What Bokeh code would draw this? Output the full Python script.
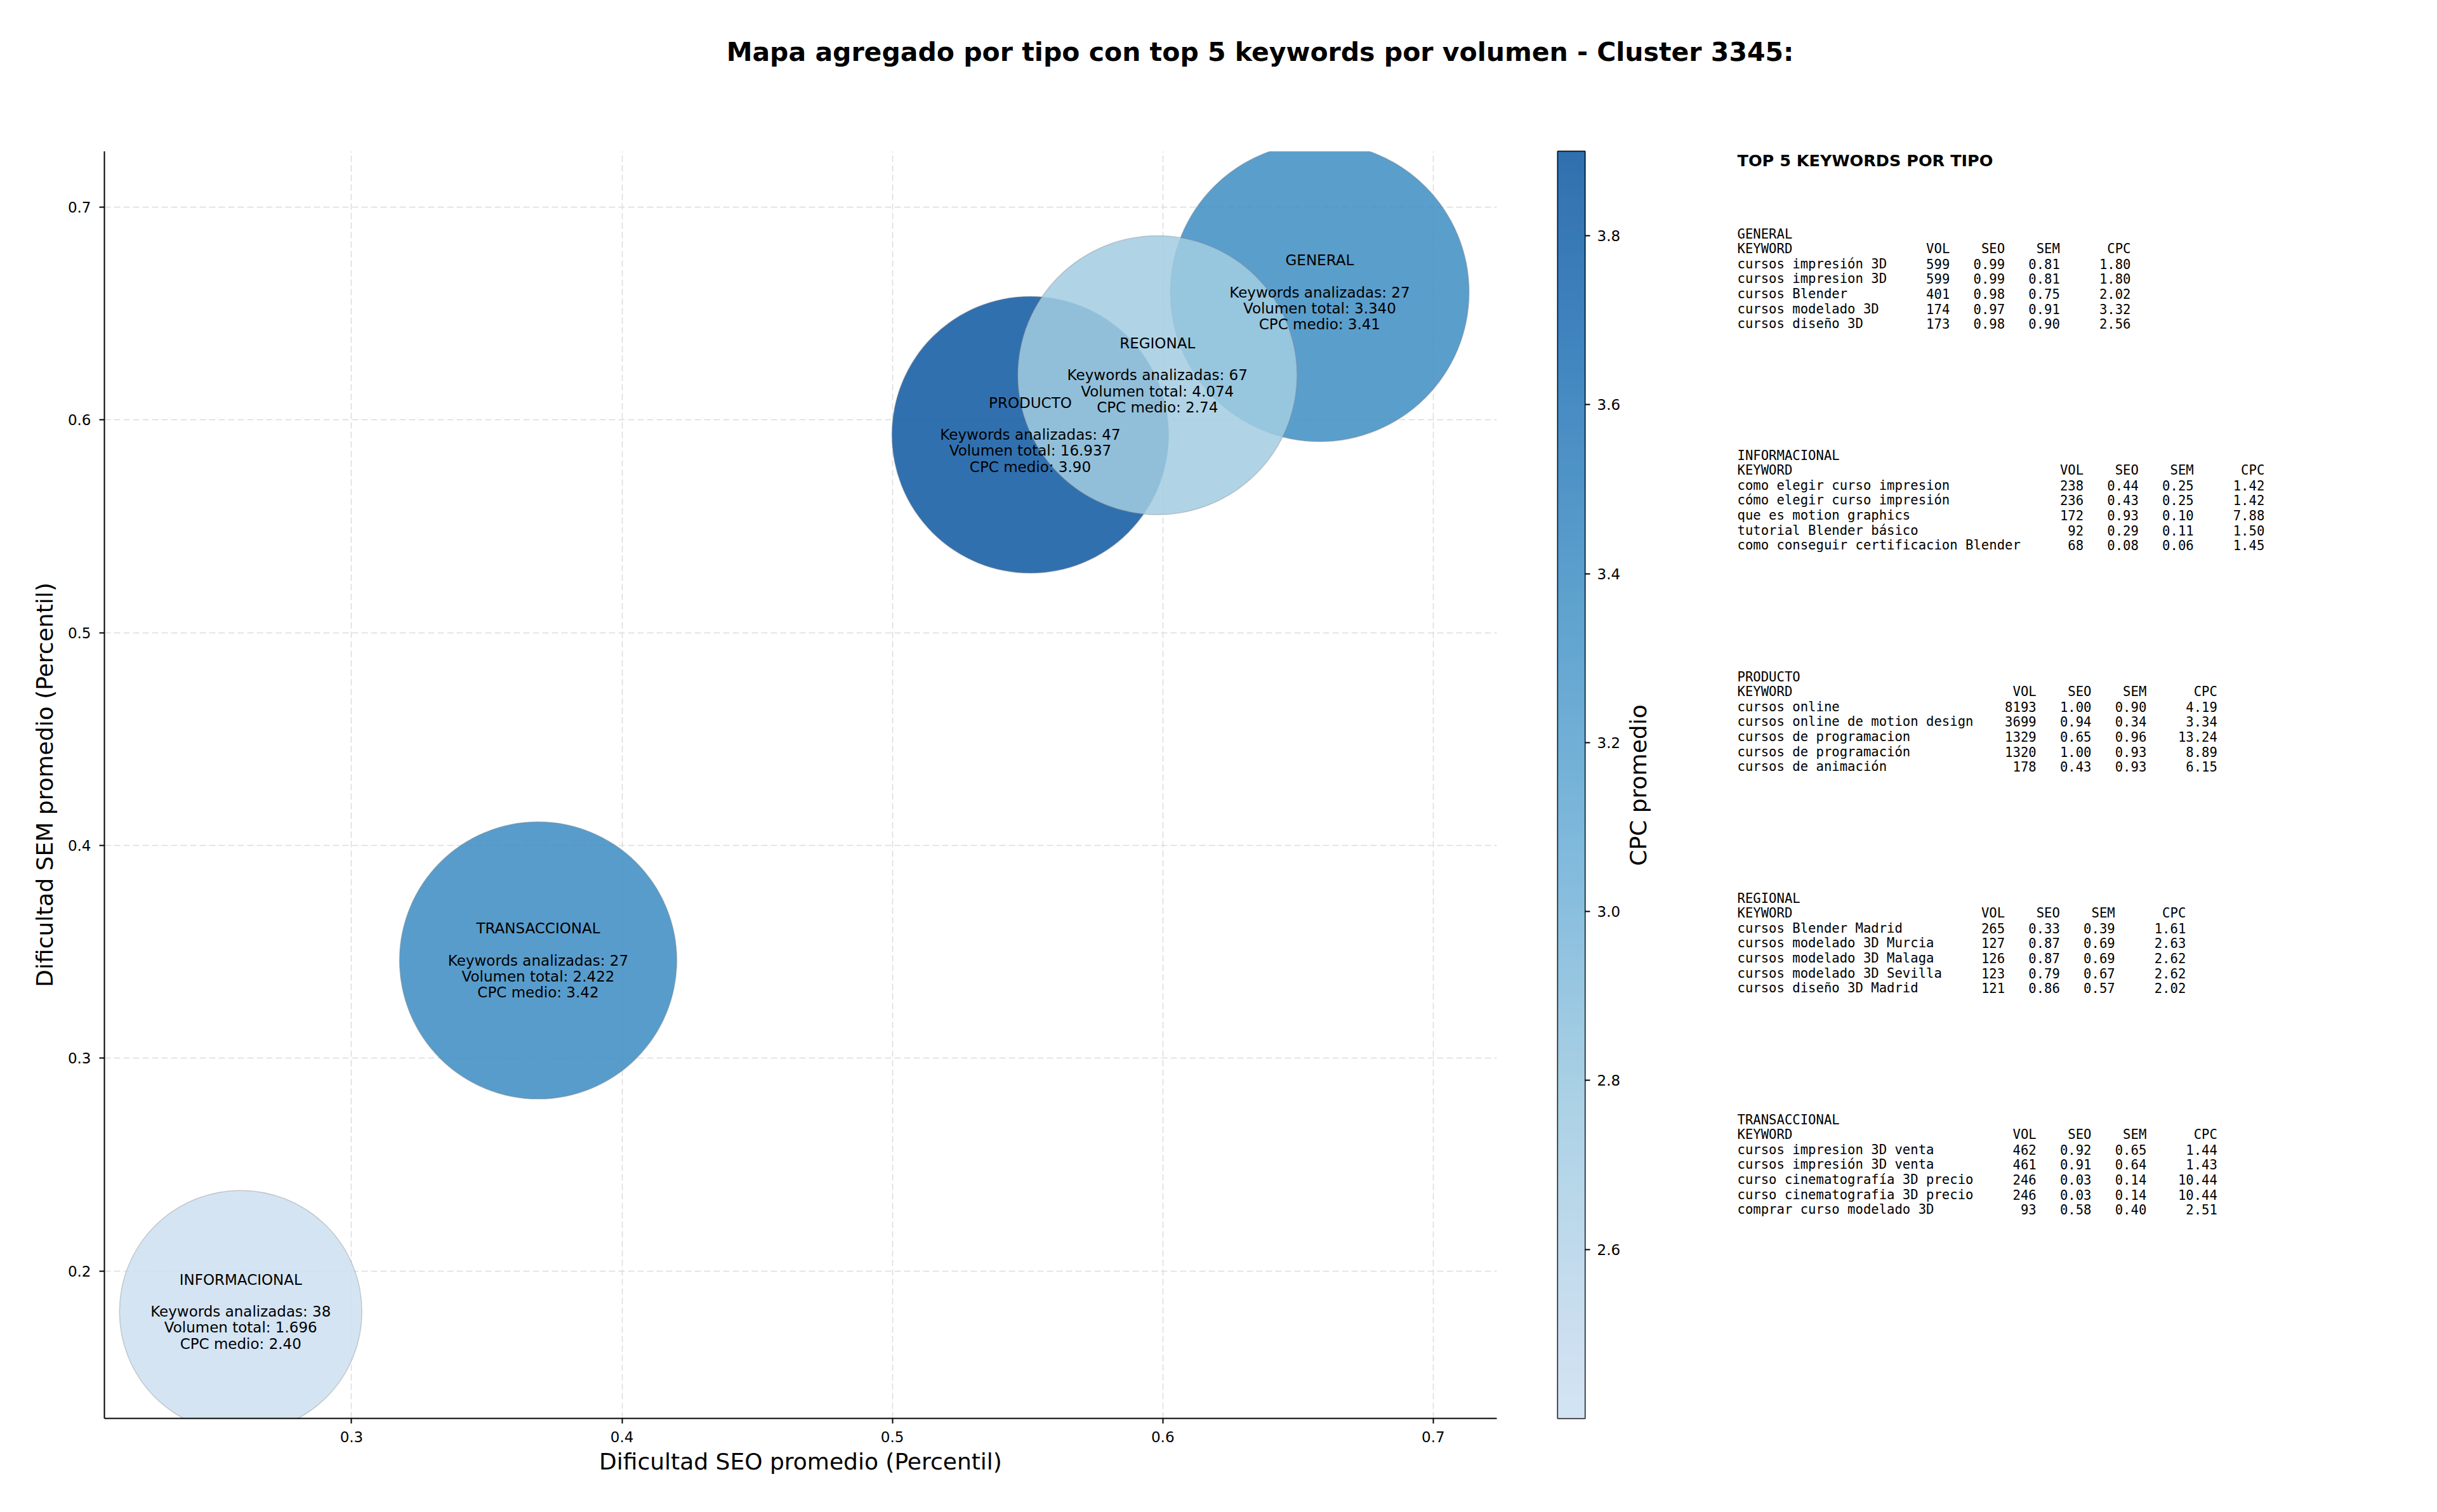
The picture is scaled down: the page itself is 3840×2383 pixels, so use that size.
import numpy as np
from bokeh.plotting import figure
from bokeh.layouts import column, row
from bokeh.models import ColumnDataSource, Range1d, FixedTicker, LinearColorMapper, PrintfTickFormatter
from bokeh.core.properties import value
from bokeh.embed import file_html
from bokeh.resources import INLINE

# ---------------- data ----------------
tipos = ["GENERAL", "INFORMACIONAL", "PRODUCTO", "REGIONAL", "TRANSACCIONAL"]
seo_prom = [0.658, 0.259, 0.551, 0.598, 0.369]
sem_prom = [0.660, 0.181, 0.593, 0.621, 0.346]
n_keywords = [27, 38, 47, 67, 27]
vol_total = [3340, 1696, 16937, 4074, 2422]
cpc_medio = [3.41, 2.40, 3.90, 2.74, 3.42]
bubble_px = [471, 382, 436, 440, 437]

x_ticks = [0.3, 0.4, 0.5, 0.6, 0.7]
y_ticks = [0.2, 0.3, 0.4, 0.5, 0.6, 0.7]
cb_ticks = [2.6, 2.8, 3.0, 3.2, 3.4, 3.6, 3.8]

top_general = [
    ("cursos impresión 3D", 599, 0.99, 0.81, 1.80),
    ("cursos impresion 3D", 599, 0.99, 0.81, 1.80),
    ("cursos Blender", 401, 0.98, 0.75, 2.02),
    ("cursos modelado 3D", 174, 0.97, 0.91, 3.32),
    ("cursos diseño 3D", 173, 0.98, 0.90, 2.56),
]
top_informacional = [
    ("como elegir curso impresion", 238, 0.44, 0.25, 1.42),
    ("cómo elegir curso impresión", 236, 0.43, 0.25, 1.42),
    ("que es motion graphics", 172, 0.93, 0.10, 7.88),
    ("tutorial Blender básico", 92, 0.29, 0.11, 1.50),
    ("como conseguir certificacion Blender", 68, 0.08, 0.06, 1.45),
]
top_producto = [
    ("cursos online", 8193, 1.00, 0.90, 4.19),
    ("cursos online de motion design", 3699, 0.94, 0.34, 3.34),
    ("cursos de programacion", 1329, 0.65, 0.96, 13.24),
    ("cursos de programación", 1320, 1.00, 0.93, 8.89),
    ("cursos de animación", 178, 0.43, 0.93, 6.15),
]
top_regional = [
    ("cursos Blender Madrid", 265, 0.33, 0.39, 1.61),
    ("cursos modelado 3D Murcia", 127, 0.87, 0.69, 2.63),
    ("cursos modelado 3D Malaga", 126, 0.87, 0.69, 2.62),
    ("cursos modelado 3D Sevilla", 123, 0.79, 0.67, 2.62),
    ("cursos diseño 3D Madrid", 121, 0.86, 0.57, 2.02),
]
top_transaccional = [
    ("cursos impresion 3D venta", 462, 0.92, 0.65, 1.44),
    ("cursos impresión 3D venta", 461, 0.91, 0.64, 1.43),
    ("curso cinematografía 3D precio", 246, 0.03, 0.14, 10.44),
    ("curso cinematografia 3D precio", 246, 0.03, 0.14, 10.44),
    ("comprar curso modelado 3D", 93, 0.58, 0.40, 2.51),
]
top_tables = [top_general, top_informacional, top_producto, top_regional, top_transaccional]

# ---------------- colours ----------------
BLUES = ["#f7fbff", "#deebf7", "#c6dbef", "#9ecae1", "#6baed6",
         "#4292c6", "#2171b5", "#08519c", "#08306b"]
anch = np.array([[int(h[i:i + 2], 16) for i in (1, 3, 5)] for h in BLUES], float)
apos = np.linspace(0, 1, len(BLUES))
palette = []
for t in np.linspace(0.22, 0.85, 256):
    rgb = [int(round(np.interp(t, apos, anch[:, k]))) for k in range(3)]
    palette.append("#%02x%02x%02x" % tuple(rgb))
cmin, cmax = min(cpc_medio), max(cpc_medio)
mapper = LinearColorMapper(palette=palette, low=cmin, high=cmax)
ALPHA = 0.85

FONT = value("DejaVu Sans")
MONO = value("DejaVu Sans Mono")

# ---------------- layout constants (px) ----------------
W, H = 3840, 2383
TITLE_H = 160
ROW_H = H - TITLE_H
MAIN_W, CB_W = 2420, 140
TXT_X0 = MAIN_W + CB_W
TXT_W = W - TXT_X0
B_TOP, B_BOT = 78, 148
FRAME_TOP = TITLE_H + B_TOP
FRAME_BOT = H - B_BOT

# ---------------- title ----------------
tf = figure(width=W, height=TITLE_H, x_range=Range1d(0, W), y_range=Range1d(TITLE_H, 0),
            x_axis_location=None, y_axis_location=None, min_border=0,
            output_backend="svg", toolbar_location=None)
tf.grid.visible = False
tf.outline_line_color = None
tf.text(x=[1985], y=[81], text=["Mapa agregado por tipo con top 5 keywords por volumen - Cluster 3345:"],
        text_align="center", text_baseline="middle", text_font=FONT,
        text_font_size="41px", text_font_style="bold", text_color="black")

# ---------------- main bubble chart ----------------
labels = []
for tp, n, v, c in zip(tipos, n_keywords, vol_total, cpc_medio):
    vs = f"{v:,}".replace(",", ".")
    labels.append(f"{tp}\n\nKeywords analizadas: {n}\nVolumen total: {vs}\nCPC medio: {c:.2f}")

src = ColumnDataSource(dict(seo=seo_prom, sem=sem_prom, cpc=cpc_medio, size=bubble_px, label=labels))

p = figure(width=MAIN_W, height=ROW_H,
           x_range=Range1d(0.2086, 0.7235), y_range=Range1d(0.1308, 0.7262),
           min_border_left=164, min_border_right=62, min_border_top=B_TOP, min_border_bottom=B_BOT,
           output_backend="svg", toolbar_location=None)
p.outline_line_color = None
p.scatter("seo", "sem", size="size", source=src,
          fill_color={"field": "cpc", "transform": mapper}, fill_alpha=ALPHA,
          line_color="#7f7f7f", line_alpha=0.35, line_width=1.5)
p.text("seo", "sem", text="label", source=src, text_align="center", text_baseline="middle",
       text_font=FONT, text_font_size="23px", text_line_height=0.97, text_color="black")

for ax, ticks in ((p.xaxis, x_ticks), (p.yaxis, y_ticks)):
    ax.ticker = FixedTicker(ticks=ticks)
    ax.minor_tick_line_color = None
    ax.major_tick_in = 0
    ax.major_tick_out = 8
    ax.major_tick_line_width = 2
    ax.axis_line_width = 2
    ax.major_label_text_font = "DejaVu Sans"
    ax.major_label_text_font_size = "23px"
    ax.major_label_text_color = "black"
    ax.axis_label_text_font = "DejaVu Sans"
    ax.axis_label_text_font_style = "normal"
    ax.axis_label_text_font_size = "36px"
    ax.axis_label_text_color = "black"
p.xaxis.axis_label = "Dificultad SEO promedio (Percentil)"
p.yaxis.axis_label = "Dificultad SEM promedio (Percentil)"
p.xaxis.major_label_standoff = 12
p.xaxis.axis_label_standoff = 7
p.yaxis.major_label_standoff = 13
p.yaxis.axis_label_standoff = 13

p.xgrid.ticker = FixedTicker(ticks=x_ticks)
p.ygrid.ticker = FixedTicker(ticks=y_ticks)
for g in (p.xgrid, p.ygrid):
    g.grid_line_color = "#dcdcdc"
    g.grid_line_width = 1.5
    g.grid_line_dash = "10 5"

# ---------------- colour bar ----------------
cb = figure(width=CB_W, height=ROW_H, x_range=Range1d(0, 1), y_range=Range1d(cmin, cmax),
            x_axis_location=None, y_axis_location="right",
            min_border_left=34, min_border_right=CB_W - 34 - 43, min_border_top=B_TOP, min_border_bottom=B_BOT,
            output_backend="svg", toolbar_location=None)
cb.grid.visible = False
grad = np.linspace(cmin, cmax, 256).reshape(-1, 1)
cb.image(image=[grad], x=0, y=cmin, dw=1, dh=cmax - cmin, color_mapper=mapper, global_alpha=ALPHA)
cb.outline_line_color = "black"
cb.outline_line_width = 2
cax = cb.yaxis
cax.ticker = FixedTicker(ticks=cb_ticks)
cax.formatter = PrintfTickFormatter(format="%.1f")
cax.minor_tick_line_color = None
cax.axis_line_color = None
cax.major_tick_in = 0
cax.major_tick_out = 8
cax.major_tick_line_width = 2
cax.major_label_standoff = 11
cax.major_label_text_font = "DejaVu Sans"
cax.major_label_text_font_size = "23px"
cax.major_label_text_color = "black"

# ---------------- right text panel (coordinates = window pixels) ----------------
tx = figure(width=TXT_W, height=ROW_H, x_range=Range1d(TXT_X0, W), y_range=Range1d(FRAME_BOT, FRAME_TOP),
            x_axis_location=None, y_axis_location=None,
            min_border_left=0, min_border_right=0, min_border_top=B_TOP, min_border_bottom=B_BOT,
            output_backend="svg", toolbar_location=None)
tx.grid.visible = False
tx.outline_line_color = None

tx.text(x=[2581], y=[1237], text=["CPC promedio"], angle=np.pi / 2, text_align="center",
        text_baseline="middle", text_font=FONT, text_font_size="36px", text_color="black")

X0 = 2737
tx.text(x=[X0], y=[252], text=["TOP 5 KEYWORDS POR TIPO"], text_align="left", text_baseline="middle",
        text_font=FONT, text_font_size="25.5px", text_font_style="bold", text_color="black")

CW = 12.4
BLOCK_Y0, BLOCK_STEP, LINE_STEP = 368, 349, 23.6
lx, ly, lt, la = [], [], [], []
for i, (tp, rows) in enumerate(zip(tipos, top_tables)):
    y0 = BLOCK_Y0 + BLOCK_STEP * i
    maxlen = max(len(r[0]) for r in rows)
    edges = [X0 + CW * (maxlen + 8), X0 + CW * (maxlen + 15), X0 + CW * (maxlen + 22), X0 + CW * (maxlen + 31)]
    lx += [X0, X0]; ly += [y0, y0 + LINE_STEP]; lt += [tp, "KEYWORD"]; la += ["left", "left"]
    for e, h in zip(edges, ["VOL", "SEO", "SEM", "CPC"]):
        lx.append(e); ly.append(y0 + LINE_STEP); lt.append(h); la.append("right")
    for k, (kw, v, s, m, c) in enumerate(rows):
        yy = y0 + LINE_STEP * (2 + k)
        lx.append(X0); ly.append(yy); lt.append(kw); la.append("left")
        for e, sv in zip(edges, [f"{v}", f"{s:.2f}", f"{m:.2f}", f"{c:.2f}"]):
            lx.append(e); ly.append(yy); lt.append(sv); la.append("right")
tsrc = ColumnDataSource(dict(x=lx, y=ly, t=lt, a=la))
tx.text("x", "y", text="t", source=tsrc, text_align="a", text_baseline="middle",
        text_font=MONO, text_font_size="20.6px", text_color="black")

layout = column(tf, row(p, cb, tx))
open("out.html", "w").write(file_html(layout, INLINE))
